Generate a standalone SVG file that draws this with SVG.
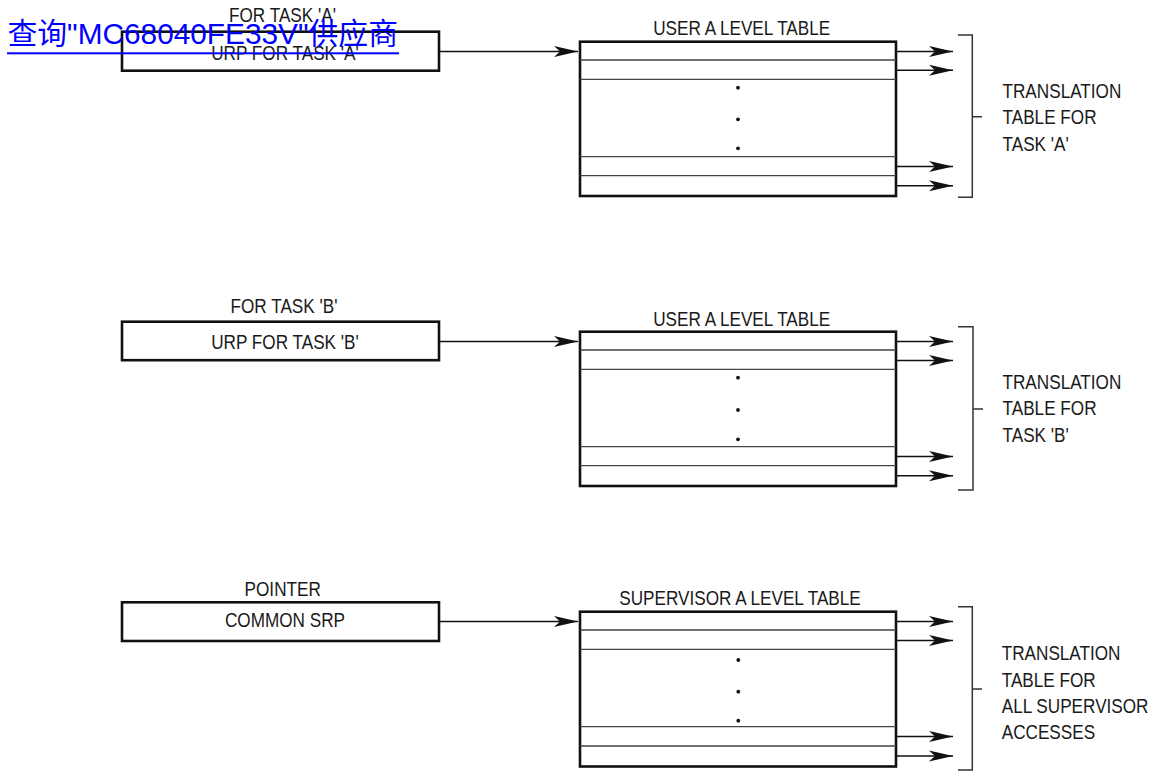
<svg xmlns="http://www.w3.org/2000/svg" width="1153" height="771" viewBox="0 0 1153 771">
<style>
.lbl{font-family:"Liberation Sans",Arial,sans-serif;font-size:19.5px;fill:#1a1a1a}
.mid{text-anchor:middle}
.box{fill:#fff;stroke:#111;stroke-width:2.6}
.row{stroke:#444;stroke-width:1.3;fill:none}
.dot{fill:#111}
.con{stroke:#111;stroke-width:1.5;fill:none;marker-end:url(#ah)}
.brk{stroke:#333;stroke-width:1.5;fill:none}
.wm{font-family:"Liberation Sans","Noto Sans CJK SC",sans-serif;font-size:29.8px;fill:#0000ff}
</style>
<defs>
<marker id="ah" markerUnits="userSpaceOnUse" markerWidth="25" markerHeight="12" refX="24" refY="6" orient="auto" viewBox="0 0 25 12">
<path d="M0,0.5 L24,6 L0,11.5 L6,6 z" fill="#111"/>
</marker>
</defs>
<rect width="1153" height="771" fill="#fff"/>

<g id="urp-a">
<rect class="box" x="122" y="31.7" width="317" height="39"/>
<text class="lbl mid" transform="translate(282.5,22) scale(0.88,1)">FOR TASK 'A'</text>
<text class="lbl mid" transform="translate(285,59.5) scale(0.88,1)">URP FOR TASK 'A'</text>
</g>

<g id="table-a">
<text class="lbl mid" transform="translate(741.7,35) scale(0.88,1)">USER A LEVEL TABLE</text>
<rect class="box" x="580" y="41.7" width="316" height="154.3"/>
<path class="row" d="M580,60 H896 M580,79.3 H896 M580,156.7 H896 M580,175.7 H896"/>
<circle class="dot" cx="738" cy="87.7" r="1.9"/>
<circle class="dot" cx="738" cy="119.3" r="1.9"/>
<circle class="dot" cx="738" cy="148.3" r="1.9"/>
</g>

<g id="trans-a">
<path class="brk" d="M958,35 H972.3 V197.3 H958 M972.3,116.7 H982"/>
<text class="lbl" transform="translate(1002.5,98.3) scale(0.88,1)">TRANSLATION</text>
<text class="lbl" transform="translate(1002.5,124) scale(0.88,1)">TABLE FOR</text>
<text class="lbl" transform="translate(1002.5,150.7) scale(0.88,1)">TASK 'A'</text>
</g>

<g id="urp-b">
<rect class="box" x="122" y="321.7" width="317" height="38.5"/>
<text class="lbl mid" transform="translate(284,313.3) scale(0.88,1)">FOR TASK 'B'</text>
<text class="lbl mid" transform="translate(285,349.3) scale(0.88,1)">URP FOR TASK 'B'</text>
</g>

<g id="table-b">
<text class="lbl mid" transform="translate(741.7,325.7) scale(0.88,1)">USER A LEVEL TABLE</text>
<rect class="box" x="580" y="331.7" width="316" height="154.3"/>
<path class="row" d="M580,350 H896 M580,369.3 H896 M580,446.7 H896 M580,465.7 H896"/>
<circle class="dot" cx="738" cy="377.7" r="1.9"/>
<circle class="dot" cx="738" cy="410" r="1.9"/>
<circle class="dot" cx="738" cy="439.3" r="1.9"/>
</g>

<g id="trans-b">
<path class="brk" d="M958,326.7 H973 V490 H958 M973,409 H983"/>
<text class="lbl" transform="translate(1002.5,389) scale(0.88,1)">TRANSLATION</text>
<text class="lbl" transform="translate(1002.5,415) scale(0.88,1)">TABLE FOR</text>
<text class="lbl" transform="translate(1002.5,441.5) scale(0.88,1)">TASK 'B'</text>
</g>

<g id="srp">
<rect class="box" x="122" y="602.3" width="317" height="38.7"/>
<text class="lbl mid" transform="translate(282.7,596) scale(0.88,1)">POINTER</text>
<text class="lbl mid" transform="translate(285,627.3) scale(0.88,1)">COMMON SRP</text>
</g>

<g id="table-s">
<text class="lbl mid" transform="translate(740,605) scale(0.88,1)">SUPERVISOR A LEVEL TABLE</text>
<rect class="box" x="580" y="611.7" width="316" height="154.8"/>
<path class="row" d="M580,630 H896 M580,649.3 H896 M580,726.7 H896 M580,746 H896"/>
<circle class="dot" cx="738.3" cy="660" r="1.9"/>
<circle class="dot" cx="738.3" cy="691.7" r="1.9"/>
<circle class="dot" cx="738.3" cy="720.7" r="1.9"/>
</g>

<g id="trans-s">
<path class="brk" d="M958,606.7 H972.3 V770 H958 M972.3,689 H982"/>
<text class="lbl" transform="translate(1001.7,660) scale(0.88,1)">TRANSLATION</text>
<text class="lbl" transform="translate(1001.7,686.7) scale(0.88,1)">TABLE FOR</text>
<text class="lbl" transform="translate(1001.7,712.7) scale(0.88,1)">ALL SUPERVISOR</text>
<text class="lbl" transform="translate(1001.7,739) scale(0.88,1)">ACCESSES</text>
</g>

<g id="connectors">
<path class="con" d="M439,51.5 H578"/>
<path class="con" d="M439,341.5 H578"/>
<path class="con" d="M439,621.5 H578"/>
<path class="con" d="M897,51.5 H953"/>
<path class="con" d="M897,70.3 H953"/>
<path class="con" d="M897,166.5 H953"/>
<path class="con" d="M897,185.8 H953"/>
<path class="con" d="M897,341.5 H953"/>
<path class="con" d="M897,360.5 H953"/>
<path class="con" d="M897,456.5 H953"/>
<path class="con" d="M897,475.8 H953"/>
<path class="con" d="M897,621.5 H953"/>
<path class="con" d="M897,640.5 H953"/>
<path class="con" d="M897,736.5 H953"/>
<path class="con" d="M897,756 H953"/>
</g>

<g id="watermark">
<text class="wm" x="7.5" y="44">查询"MC68040FE33V"供应商</text>
<rect x="7" y="52.3" width="392" height="2" fill="#0000ff"/>
</g>
</svg>
